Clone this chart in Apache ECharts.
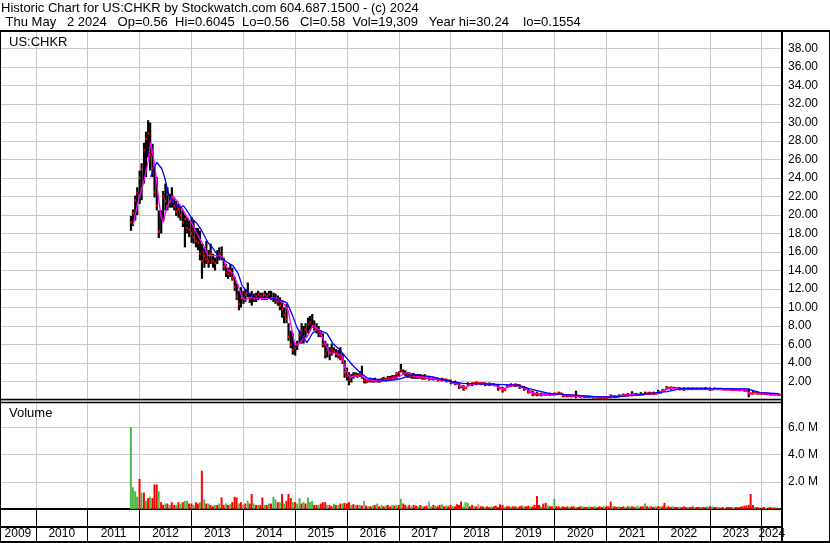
<!DOCTYPE html>
<html><head><meta charset="utf-8">
<script src="https://cdn.jsdelivr.net/npm/echarts@6/dist/echarts.min.js"></script>
<style>html,body{margin:0;padding:0;background:#fff}#c{width:830px;height:543px}</style>
</head><body><div id="c"></div><script>
const titleLine1 = 'Historic Chart for US:CHKR by Stockwatch.com 604.687.1500 - (c) 2024';
const titleLine2 = ' Thu May   2 2024   Op=0.56  Hi=0.6045  Lo=0.56   Cl=0.58  Vol=19,309   Year hi=30.24    lo=0.1554';
const symbolLabel = 'US:CHKR';
const volumeLabel = 'Volume';

// price bars: [date, high, low, close]
const priceBars = [
['2011-11-01',19.9,18.3,19.2],['2011-11-15',20.6,18.8,20.2],['2011-12-01',22.1,19.4,21.6],['2011-12-15',23.0,20.0,22.4],
['2012-01-01',24.8,21.2,24.0],['2012-01-15',25.6,21.6,25.0],['2012-02-01',27.8,23.4,27.0],['2012-02-15',29.0,24.1,28.2],
['2012-03-01',30.24,26.2,28.8],['2012-03-15',30.0,24.8,26.5],['2012-04-01',27.7,24.1,25.0],['2012-04-15',25.2,21.9,22.5],
['2012-05-01',24.1,20.5,21.0],['2012-05-15',20.5,17.5,18.2],['2012-06-01',20.5,18.0,20.0],['2012-06-15',22.6,19.4,22.0],
['2012-07-01',23.4,20.5,21.5],['2012-07-15',23.0,20.5,22.2],['2012-08-01',22.3,20.8,21.4],['2012-08-15',23.0,20.8,22.0],
['2012-09-01',21.9,20.5,21.0],['2012-09-15',21.5,19.9,20.4],['2012-10-01',21.2,19.7,20.6],['2012-10-15',20.8,19.4,20.0],
['2012-11-01',20.5,18.7,19.2],['2012-11-15',20.1,16.5,19.6],['2012-12-01',19.8,18.0,18.6],['2012-12-15',19.4,17.6,18.4],
['2013-01-01',19.8,17.0,18.0],['2013-01-15',19.4,16.9,17.6],['2013-02-01',18.6,16.5,17.2],['2013-02-15',18.6,16.2,17.0],
['2013-03-01',18.3,15.1,15.8],['2013-03-15',16.9,13.1,15.0],['2013-04-01',16.5,14.3,15.6],['2013-04-15',17.2,14.7,15.2],
['2013-05-01',16.2,14.3,15.0],['2013-05-15',16.9,14.7,15.8],['2013-06-01',15.8,14.3,15.0],['2013-06-15',15.4,14.0,14.8],
['2013-07-01',16.2,14.7,15.6],['2013-07-15',16.5,15.1,15.8],['2013-08-01',16.6,15.1,15.4],['2013-08-15',15.4,14.0,14.4],
['2013-09-01',14.7,13.3,13.8],['2013-09-15',14.3,13.1,13.6],['2013-10-01',14.7,13.3,14.0],['2013-10-15',14.3,12.9,13.2],
['2013-11-01',13.3,11.8,12.2],['2013-11-15',12.6,10.8,11.2],['2013-12-01',11.8,9.7,10.4],['2013-12-15',12.2,10.0,11.0],
['2014-01-01',11.8,10.4,11.0],['2014-01-15',12.0,10.6,11.4],['2014-02-01',12.7,11.1,11.6],['2014-02-15',11.6,10.5,11.0],
['2014-03-01',11.8,10.2,11.2],['2014-03-15',11.5,10.6,11.0],['2014-04-01',11.6,10.6,11.2],['2014-04-15',11.8,10.8,11.4],
['2014-05-01',11.6,11.0,11.2],['2014-05-15',11.6,10.8,11.0],['2014-06-01',11.8,10.8,11.4],['2014-06-15',11.6,10.8,11.2],
['2014-07-01',11.8,11.0,11.4],['2014-07-15',11.8,10.8,11.0],['2014-08-01',11.6,10.6,11.0],['2014-08-15',11.5,10.4,10.8],
['2014-09-01',11.3,10.2,10.6],['2014-09-15',11.1,9.7,10.2],['2014-10-01',10.8,8.9,9.8],['2014-10-15',10.0,8.3,9.2],
['2014-11-01',10.4,8.3,8.8],['2014-11-15',8.3,6.4,6.8],['2014-12-01',7.5,5.6,6.0],['2014-12-15',7.2,4.9,5.4],
['2015-01-01',6.1,4.8,5.6],['2015-01-15',6.4,5.4,6.0],['2015-02-01',7.5,6.1,7.0],['2015-02-15',8.3,6.1,7.4],
['2015-03-01',8.0,6.1,6.8],['2015-03-15',8.3,6.8,7.6],['2015-04-01',8.9,7.2,8.2],['2015-04-15',9.1,7.5,8.4],
['2015-05-01',9.3,7.8,8.0],['2015-05-15',8.6,7.5,7.8],['2015-06-01',8.3,7.2,7.6],['2015-06-15',8.0,6.8,7.4],
['2015-07-01',7.5,6.8,7.0],['2015-07-15',7.2,5.7,6.0],['2015-08-01',6.4,4.5,5.0],['2015-08-15',6.1,4.6,5.4],
['2015-09-01',5.7,4.3,5.0],['2015-09-15',6.1,4.8,5.4],['2015-10-01',5.7,5.0,5.2],['2015-10-15',5.5,4.6,5.0],
['2015-11-01',5.4,4.5,4.8],['2015-11-15',5.7,4.3,4.6],['2015-12-01',5.0,3.9,4.2],['2015-12-15',4.3,2.4,3.0],
['2016-01-01',3.5,2.1,2.6],['2016-01-15',3.0,1.6,2.2],['2016-02-01',2.8,1.9,2.5],['2016-02-15',3.0,2.3,2.6],
['2016-03-01',3.0,2.5,2.7],['2016-03-15',2.9,2.4,2.6],['2016-04-01',3.1,2.5,2.8],['2016-04-15',3.7,2.3,2.5],
['2016-05-01',2.4,1.8,2.1],['2016-05-15',2.3,1.8,2.0],['2016-06-01',2.3,1.9,2.1],['2016-06-15',2.4,1.9,2.2],
['2016-07-01',2.3,1.9,2.0],['2016-07-15',2.4,1.9,2.1],['2016-08-01',2.3,1.9,2.1],['2016-08-15',2.3,1.9,2.0],
['2016-09-01',2.4,2.0,2.2],['2016-09-15',2.5,2.0,2.2],['2016-10-01',2.4,2.0,2.2],['2016-10-15',2.6,2.2,2.4],
['2016-11-01',2.6,2.1,2.3],['2016-11-15',2.7,2.2,2.4],['2016-12-01',2.7,2.2,2.5],['2016-12-15',3.0,2.3,2.8],
['2017-01-01',3.1,2.5,2.9],['2017-01-15',3.9,3.0,3.2],['2017-02-01',3.3,2.7,2.9],['2017-02-15',3.2,2.6,2.8],
['2017-03-01',3.0,2.4,2.7],['2017-03-15',3.0,2.4,2.6],['2017-04-01',2.9,2.3,2.6],['2017-04-15',2.9,2.3,2.5],
['2017-05-01',2.8,2.3,2.5],['2017-05-15',2.8,2.3,2.5],['2017-06-01',2.8,2.3,2.4],['2017-06-15',2.7,2.2,2.4],
['2017-07-01',2.8,2.2,2.4],['2017-08-01',2.6,2.1,2.3],['2017-09-01',2.5,2.1,2.3],['2017-10-01',2.4,2.0,2.2],
['2017-11-01',2.4,2.0,2.2],['2017-12-01',2.3,1.9,2.1],
['2018-01-01',2.2,1.7,1.9],['2018-02-01',2.1,1.6,1.8],['2018-03-01',1.8,1.2,1.4],['2018-04-01',1.6,1.0,1.3],
['2018-05-01',1.9,1.5,1.7],['2018-06-01',1.9,1.5,1.8],['2018-07-01',2.0,1.6,1.8],['2018-08-01',1.9,1.6,1.8],
['2018-09-01',1.9,1.5,1.7],['2018-10-01',1.9,1.5,1.7],['2018-11-01',1.8,1.5,1.6],['2018-12-01',1.7,1.0,1.3],
['2019-01-01',1.4,0.8,1.1],['2019-02-01',1.7,1.3,1.5],['2019-03-01',1.8,1.4,1.6],['2019-04-01',1.8,1.4,1.6],
['2019-05-01',1.7,1.2,1.4],['2019-06-01',1.5,1.0,1.2],['2019-07-01',1.2,0.7,0.9],['2019-08-01',1.0,0.4,0.6],
['2019-09-01',0.9,0.4,0.6],['2019-10-01',0.8,0.4,0.6],['2019-11-01',0.75,0.45,0.6],['2019-12-01',0.8,0.45,0.6],
['2020-01-01',0.8,0.5,0.65],['2020-02-01',0.9,0.6,0.7],['2020-03-01',0.7,0.3,0.45],['2020-04-01',0.65,0.3,0.45],
['2020-05-01',0.55,0.3,0.45],['2020-06-01',1.0,0.2,0.45],['2020-07-01',0.5,0.25,0.4],['2020-08-01',0.45,0.2,0.35],
['2020-09-01',0.45,0.2,0.35],['2020-10-01',0.35,0.16,0.3],['2020-11-01',0.35,0.16,0.25],['2020-12-01',0.3,0.16,0.25],
['2021-01-01',0.4,0.2,0.3],['2021-02-01',0.6,0.2,0.4],['2021-03-01',0.5,0.2,0.35],['2021-04-01',0.6,0.3,0.45],
['2021-05-01',0.7,0.4,0.5],['2021-06-01',0.75,0.45,0.55],['2021-07-01',0.95,0.4,0.6],['2021-08-01',0.75,0.45,0.55],
['2021-09-01',0.85,0.5,0.6],['2021-10-01',0.9,0.6,0.7],['2021-11-01',0.9,0.6,0.7],['2021-12-01',0.9,0.55,0.7],
['2022-01-01',1.1,0.7,0.8],['2022-02-01',1.2,0.9,1.0],['2022-03-01',1.5,1.1,1.3],['2022-04-01',1.45,1.1,1.3],
['2022-05-01',1.4,1.1,1.25],['2022-06-01',1.4,1.05,1.2],['2022-07-01',1.35,1.0,1.2],['2022-08-01',1.35,1.1,1.2],
['2022-09-01',1.35,1.1,1.2],['2022-10-01',1.35,1.1,1.2],['2022-11-01',1.35,1.1,1.2],['2022-12-01',1.4,1.1,1.2],
['2023-01-01',1.35,1.0,1.15],['2023-02-01',1.35,1.1,1.2],['2023-03-01',1.3,1.1,1.2],['2023-04-01',1.3,1.1,1.15],
['2023-05-01',1.3,1.1,1.15],['2023-06-01',1.25,1.0,1.1],['2023-07-01',1.2,1.0,1.1],['2023-08-01',1.2,0.95,1.1],
['2023-09-01',1.2,0.9,1.0],['2023-10-01',1.25,0.3,0.7],['2023-11-01',1.0,0.6,0.75],['2023-12-01',0.9,0.6,0.7],
['2024-01-01',0.85,0.6,0.7],['2024-02-01',0.8,0.55,0.65],['2024-03-01',0.75,0.5,0.6],['2024-04-01',0.7,0.5,0.6],
['2024-05-02',0.6045,0.56,0.58]
];

// short moving average (magenta)
const fastMA = [
['2011-11-16',18.9],['2011-12-24',21.6],['2012-01-28',23.4],['2012-03-03',25.9],['2012-03-19',27.9],['2012-04-19',25.2],
['2012-05-12',22.0],['2012-06-01',19.8],['2012-06-16',19.2],['2012-07-10',20.8],['2012-08-15',21.9],['2012-09-19',21.6],
['2012-10-24',20.8],['2012-11-29',19.8],['2013-01-04',19.1],['2013-02-08',18.0],['2013-03-02',17.4],['2013-03-22',16.9],
['2013-04-28',15.6],['2013-06-02',15.6],['2013-07-21',15.6],['2013-08-11',15.3],['2013-09-16',14.0],['2013-10-21',13.7],
['2013-11-25',12.4],['2013-12-23',11.1],['2014-01-14',10.8],['2014-02-18',11.1],['2014-04-28',11.0],['2014-06-16',11.0],
['2014-08-26',11.0],['2014-10-08',10.5],['2014-11-13',9.7],['2014-12-10',7.5],['2015-01-01',5.9],['2015-02-06',6.2],
['2015-02-27',6.6],['2015-03-25',6.8],['2015-05-07',8.1],['2015-06-25',7.5],['2015-07-30',6.1],['2015-09-04',5.1],
['2015-10-22',5.0],['2015-11-28',4.8],['2015-12-17',3.5],['2016-01-22',2.4],['2016-02-27',2.6],['2016-04-16',2.6],
['2016-05-22',2.2],['2016-08-01',2.1],['2016-11-01',2.2],['2017-01-10',2.6],['2017-02-28',3.0],['2017-04-10',2.6],
['2017-07-16',2.4],['2017-10-16',2.2],['2018-01-01',2.0],['2018-03-01',1.6],['2018-04-15',1.35],['2018-06-01',1.75],
['2018-09-01',1.8],['2018-11-01',1.65],['2019-01-01',1.2],['2019-02-15',1.45],['2019-04-01',1.6],['2019-06-01',1.3],
['2019-08-01',0.8],['2019-10-01',0.6],['2020-01-01',0.65],['2020-03-01',0.6],['2020-05-01',0.45],['2020-08-01',0.4],
['2020-11-01',0.28],['2021-01-01',0.3],['2021-03-01',0.4],['2021-06-01',0.55],['2021-09-01',0.6],['2021-12-01',0.7],
['2022-02-01',0.95],['2022-03-15',1.25],['2022-06-01',1.22],['2022-12-01',1.2],['2023-06-01',1.1],['2023-09-01',1.05],
['2023-10-20',0.7],['2023-12-01',0.75],['2024-03-01',0.62],['2024-05-02',0.58]
];

// long moving average (blue)
const slowMA = [
['2012-03-19',24.1],['2012-05-01',25.7],['2012-06-06',25.0],['2012-06-29',23.9],['2012-07-22',22.3],['2012-08-27',21.2],
['2012-10-13',20.8],['2012-11-06',21.0],['2012-11-29',20.5],['2013-01-04',19.6],['2013-02-08',19.1],['2013-03-14',18.3],
['2013-04-28',17.0],['2013-06-02',16.4],['2013-07-07',15.6],['2013-09-10',14.9],['2013-10-21',14.5],['2013-11-25',13.7],
['2013-12-23',12.4],['2014-02-03',11.6],['2014-03-16',11.1],['2014-06-16',11.1],['2014-09-19',10.8],['2014-11-06',10.5],
['2014-12-10',9.3],['2015-01-15',7.8],['2015-02-27',6.8],['2015-03-25',6.2],['2015-05-07',7.3],['2015-06-25',7.5],
['2015-08-13',7.2],['2015-09-24',6.1],['2015-11-13',5.4],['2016-01-01',4.5],['2016-02-13',3.7],['2016-04-01',3.0],
['2016-05-22',2.4],['2016-08-01',2.2],['2016-10-10',2.1],['2016-12-19',2.2],['2017-02-01',2.4],['2017-03-19',2.7],
['2017-05-28',2.7],['2017-08-28',2.5],['2017-12-28',2.0],['2018-03-28',1.8],['2018-11-22',1.7],['2019-04-12',1.6],
['2019-07-13',1.2],['2019-12-01',0.7],['2020-03-01',0.6],['2020-09-10',0.4],['2021-01-28',0.3],['2021-07-09',0.5],
['2022-03-04',0.9],['2022-06-25',1.25],['2023-09-22',1.2],['2023-12-22',0.8],['2024-05-02',0.7]
];

// semi-monthly volume (millions), Nov 2011 .. May 2024
const volumeValues = [
6.0,1.6,1.3,0.9,
2.2,1.2,1.2,0.6,0.8,0.9,0.8,1.8,1.8,1.3,0.5,0.3,0.4,0.4,0.3,0.5,0.3,0.3,0.5,0.4,0.5,0.6,0.6,0.4,
0.4,0.3,0.5,0.4,0.5,2.8,0.7,0.4,0.4,0.3,0.2,0.3,0.3,0.4,0.85,0.3,0.4,0.3,0.35,0.5,0.9,0.85,0.4,0.5,
0.3,0.4,0.6,0.4,1.1,0.4,0.3,0.3,0.3,0.85,0.3,0.3,0.4,0.4,0.9,0.7,0.5,0.5,1.1,0.4,0.6,1.1,0.8,0.5,
0.5,0.4,0.8,0.4,0.5,0.4,0.85,0.5,0.6,0.3,0.3,0.3,0.4,0.5,0.5,0.3,0.3,0.2,0.4,0.3,0.3,0.4,0.4,0.45,
0.4,0.5,0.3,0.35,0.3,0.3,0.3,0.25,0.6,0.25,0.2,0.2,0.25,0.3,0.4,0.2,0.3,0.2,0.25,0.3,0.2,0.3,0.25,0.3,
0.3,0.75,0.4,0.3,0.2,0.3,0.2,0.3,0.25,0.2,0.3,0.2,0.2,0.25,0.55,0.2,0.3,0.25,0.2,0.3,0.35,0.2,0.25,0.2,
0.3,0.2,0.2,0.35,0.3,0.55,0.2,0.5,0.45,0.2,0.3,0.2,0.2,0.35,0.2,0.2,0.15,0.2,0.15,0.2,0.2,0.25,0.15,0.35,
0.3,0.15,0.2,0.2,0.15,0.2,0.2,0.15,0.2,0.25,0.2,0.2,0.25,0.2,0.2,0.3,0.96,0.3,0.2,0.4,0.45,0.3,0.2,0.2,
0.75,0.2,0.2,0.15,0.2,0.15,0.2,0.15,0.2,0.2,0.15,0.15,0.2,0.2,0.15,0.15,0.2,0.15,0.15,0.2,0.15,0.2,0.15,0.2,
0.2,0.2,0.55,0.2,0.2,0.15,0.2,0.15,0.2,0.15,0.2,0.2,0.2,0.15,0.2,0.2,0.2,0.2,0.4,0.2,0.2,0.2,0.15,0.2,
0.2,0.2,0.2,0.45,0.2,0.2,0.15,0.2,0.15,0.15,0.15,0.15,0.2,0.15,0.15,0.15,0.2,0.15,0.15,0.15,0.15,0.15,0.15,0.2,
0.2,0.2,0.15,0.15,0.15,0.1,0.15,0.1,0.15,0.15,0.15,0.1,0.15,0.15,0.15,0.2,0.25,0.25,0.3,1.1,0.3,0.15,0.15,0.1,
0.1,0.15,0.1,0.1,0.15,0.1,0.15,0.1,0.05
];
// g = up week, r = down week, n = unchanged
const volumeDirs = [
'gggg',
'rgrgrgrrrgrrgrgrrgrgrggr',
'rgrrgrgrgrrgrgrrgrgrrrgr',
'grgrrgrgrrgrgrggrgrgrrrg',
'rggrgrgggrrgrrrgrrgrgrgr',
'rrgrgrgrnrgrgrgrgrgrrgrg',
'rgrrgrgrrgrgrrngrgrrgrgr',
'rgrrrrgggrrgrnrrgrrgrrrr',
'rgrrgrrgrrgrrgrrrrgrrgrr',
'grrgrrrgrrgrrgrrgrrgrrrg',
'rrrgrrgrrgrgrrggrrgrgrrg',
'rgrrgrrgrrgrrrgrrgrrgrrg',
'rgrrgrrgrrrgrrrrrrrrrgrr',
'rrgrrrgrg'
].join('');

const FONT = '"Liberation Sans", Arial, Helvetica, sans-serif';
const GRID_COLOR = '#c8c8c8';
const DIR_COLOR = { g: '#4cb848', r: '#ff0000', n: '#a0a0a0' };

const ts = s => { const p = s.split('-').map(Number); return +new Date(p[0], p[1] - 1, p[2]); };

const xMin = +new Date(2009, 3, 23);
const xMax = +new Date(2024, 4, 23);
const yearTicks = [];
for (let y = 2010; y <= 2024; y++) yearTicks.push(+new Date(y, 0, 1));
const yearLabelPos = [+new Date(2009, 7, 27)];
for (let y = 2010; y <= 2023; y++) yearLabelPos.push(+new Date(y, 6, 2));
yearLabelPos.push(+new Date(2024, 2, 12));

const barData = priceBars.map(r => [ts(r[0]), r[1], r[2], r[3]]);
const fastData = fastMA.map(r => [ts(r[0]), r[1]]);
const slowData = slowMA.map(r => [ts(r[0]), r[1]]);

const volDates = [];
for (let y = 2011; y <= 2024; y++) for (let m = 0; m < 12; m++) for (const d of [1, 15]) {
  const t = new Date(y, m, d);
  if (t < new Date(2011, 10, 1) || t > new Date(2024, 4, 1)) continue;
  volDates.push(+t);
}
const volData = volDates.map((t, i) => ({
  value: [t, volumeValues[i] !== undefined ? volumeValues[i] : 0],
  itemStyle: { color: DIR_COLOR[volumeDirs[i]] || '#ff0000' }
}));

const chart = echarts.init(document.getElementById('c'), null, { renderer: 'canvas', width: 830, height: 543 });

const line = (x1, y1, x2, y2, w) => ({
  type: 'line', z: 100, silent: true,
  shape: { x1, y1, x2, y2 }, style: { stroke: '#000', lineWidth: w }
});
const txt = (x, y, text, size) => ({
  type: 'text', z: 100, silent: true, x, y,
  style: { text, fill: '#000', fontSize: size, fontFamily: FONT, textVerticalAlign: 'middle', textAlign: 'left' }
});

const option = {
  animation: false,
  backgroundColor: '#fff',
  grid: [
    { left: 0, top: 30, width: 782, height: 370, outerBoundsMode: 'none', containLabel: false },
    { left: 0, top: 400, width: 782, height: 109, outerBoundsMode: 'none', containLabel: false }
  ],
  xAxis: [
    {
      type: 'value', gridIndex: 0, min: xMin, max: xMax, scale: true,
      axisLine: { show: false }, axisLabel: { show: false },
      axisTick: { show: false, customValues: yearTicks },
      splitLine: { show: true, lineStyle: { color: GRID_COLOR, width: 1 } }
    },
    {
      type: 'value', gridIndex: 1, min: xMin, max: xMax, scale: true,
      axisLine: { show: true, onZero: false, lineStyle: { color: '#000', width: 2 } },
      axisTick: { show: true, customValues: yearTicks, length: 33, lineStyle: { color: '#000', width: 1 } },
      axisLabel: {
        show: true, customValues: yearLabelPos, margin: 19,
        color: '#000', fontSize: 12, fontFamily: FONT,
        formatter: v => String(new Date(v).getFullYear())
      },
      splitLine: { show: true, lineStyle: { color: GRID_COLOR, width: 1 } }
    }
  ],
  yAxis: [
    {
      type: 'value', gridIndex: 0, position: 'right', min: 0, max: 40, interval: 2,
      axisLine: { show: false }, axisTick: { show: false },
      splitLine: { show: true, lineStyle: { color: GRID_COLOR, width: 1 } },
      axisLabel: {
        margin: 6, color: '#000', fontSize: 12, fontFamily: FONT,
        formatter: v => (v <= 0 || v >= 40) ? '' : v.toFixed(2)
      }
    },
    {
      type: 'value', gridIndex: 1, position: 'right', min: 0, max: 8, interval: 2,
      axisLine: { show: false }, axisTick: { show: false },
      splitLine: { show: true, lineStyle: { color: GRID_COLOR, width: 1 } },
      axisLabel: {
        margin: 6, color: '#000', fontSize: 12, fontFamily: FONT,
        formatter: v => (v <= 0 || v >= 8) ? '' : v.toFixed(1) + ' M'
      }
    }
  ],
  series: [
    {
      type: 'custom', xAxisIndex: 0, yAxisIndex: 0, data: barData,
      encode: { x: 0, y: [1, 2, 3] }, clip: true, silent: true,
      renderItem: (params, api) => {
        const i = params.dataIndex;
        const t = api.value(0);
        const hi = api.coord([t, api.value(1)]);
        const lo = api.coord([t, api.value(2)]);
        const cl = api.coord([t, api.value(3)]);
        let gap = 2.2;
        if (i + 1 < barData.length) gap = api.coord([barData[i + 1][0], 0])[0] - hi[0];
        const tickW = Math.max(2, Math.min(4.4, gap));
        return {
          type: 'group', children: [
            { type: 'rect', shape: { x: hi[0] - 1, y: hi[1], width: 2.2, height: Math.max(1.5, lo[1] - hi[1]) }, style: { fill: '#000' } },
            { type: 'rect', shape: { x: cl[0] - 0.5, y: cl[1] - 1.25, width: tickW, height: 2.5 }, style: { fill: '#ff0000' } }
          ]
        };
      }
    },
    {
      type: 'line', xAxisIndex: 0, yAxisIndex: 0, data: fastData, symbol: 'none', silent: true,
      lineStyle: { color: '#ff00ff', width: 1.3 }, itemStyle: { color: '#ff00ff' }
    },
    {
      type: 'line', xAxisIndex: 0, yAxisIndex: 0, data: slowData, symbol: 'none', silent: true,
      lineStyle: { color: '#0000ff', width: 1.3 }, itemStyle: { color: '#0000ff' }
    },
    {
      type: 'bar', xAxisIndex: 1, yAxisIndex: 1, data: volData, barWidth: 2, silent: true
    }
  ],
  graphic: [
    txt(1, 8, titleLine1, 13),
    txt(2, 22, titleLine2, 13),
    txt(9, 42, symbolLabel, 13),
    txt(9, 413, volumeLabel, 13),
    line(0, 31, 830, 31, 2),
    line(0.5, 31, 0.5, 543, 1),
    line(829.5, 31, 829.5, 543, 1),
    line(782, 31, 782, 543, 2),
    line(0, 399.5, 782, 399.5, 1.5),
    line(0, 402.5, 782, 402.5, 1.5),
    line(0, 527, 782, 527, 2),
    line(0, 542, 830, 542, 2)
  ]
};
chart.setOption(option);
</script></body></html>
